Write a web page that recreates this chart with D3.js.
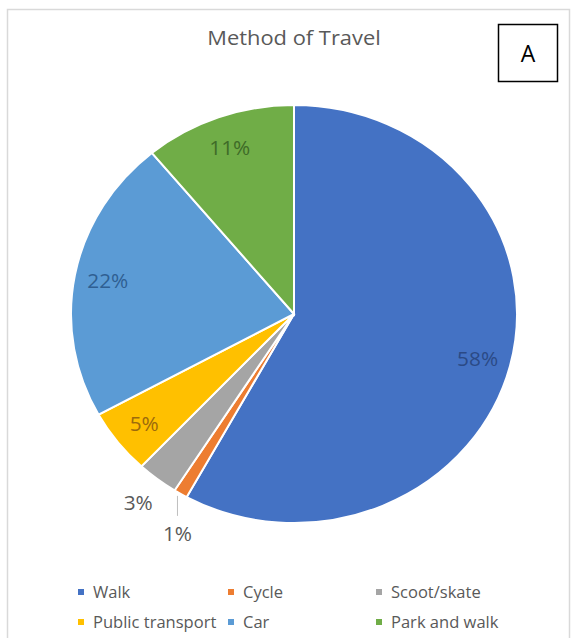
<!DOCTYPE html>
<html>
<head>
<meta charset="utf-8">
<script src="https://cdn.jsdelivr.net/npm/d3@7"></script>
<style>
  html, body { margin: 0; padding: 0; background: #ffffff; }
  svg { display: block; }
  text { font-family: "Open Sans", Lato, sans-serif; }
</style>
</head>
<body>
<svg id="chart" width="574" height="638"></svg>
<script>
// Survey results: how people travel
const categories = ["Walk", "Cycle", "Scoot/skate", "Public transport", "Car", "Park and walk"];
const shares = [58, 1, 3, 5, 22, 11];
const sliceColors = ["#4472c4", "#ed7d31", "#a5a5a5", "#ffc000", "#5b9bd5", "#70ad47"];
const labelColors = ["#2b4a86", "#595959", "#595959", "#9c6a0c", "#2f5f92", "#3e6b28"];
const labelOutside = [false, true, true, false, false, false];
const title = "Method of Travel";
const badge = "A";

const svg = d3.select("#chart");
// the whole chart is drawn slightly wider than tall
const sx = 223 / 209;

// text placed at (x, y) and widened by the same horizontal factor
function wideText(parent, x, y) {
  return parent.append("text")
    .attr("transform", `translate(${x},${y}) scale(${sx},1)`);
}

// chart area frame
svg.append("rect")
  .attr("x", 7.5).attr("y", 9.5)
  .attr("width", 562).attr("height", 640)
  .attr("fill", "#ffffff")
  .attr("stroke", "#d9d9d9").attr("stroke-width", 1.5);

// title
wideText(svg, 294, 45)
  .attr("text-anchor", "middle")
  .attr("font-size", 20.5)
  .attr("fill", "#595959")
  .text(title);

// boxed panel letter
svg.append("rect")
  .attr("x", 498.5).attr("y", 24.5)
  .attr("width", 59).attr("height", 57)
  .attr("fill", "#ffffff")
  .attr("stroke", "#000000").attr("stroke-width", 1.5);
svg.append("text")
  .attr("x", 528).attr("y", 62)
  .attr("text-anchor", "middle")
  .attr("font-family", "'Liberation Sans', Arial, sans-serif")
  .attr("font-size", 23)
  .attr("fill", "#000000")
  .text(badge);

// pie
const cx = 294, cy = 314, r = 209;
const pie = d3.pie().sort(null).value(d => d)(shares);
const arc = d3.arc().innerRadius(0).outerRadius(r);
const inLabelArc = d3.arc().innerRadius(0.85 * r).outerRadius(0.85 * r);
const outLabelArc = d3.arc().innerRadius(1.14 * r).outerRadius(1.14 * r);
const rimArc = d3.arc().innerRadius(r).outerRadius(r);

const g = svg.append("g").attr("transform", `translate(${cx},${cy})`);
g.append("g").attr("transform", `scale(${sx},1)`)
  .selectAll("path")
  .data(pie)
  .join("path")
  .attr("d", arc)
  .attr("fill", (d, i) => sliceColors[i])
  .attr("stroke", "#ffffff")
  .attr("stroke-width", 2)
  .attr("vector-effect", "non-scaling-stroke");

// data labels
function addLabel(x, y, i) {
  wideText(g, x, y)
    .attr("text-anchor", "middle").attr("dominant-baseline", "central")
    .attr("font-size", 19.5).attr("fill", labelColors[i])
    .text(shares[i] + "%");
}
pie.forEach((d, i) => {
  if (!labelOutside[i]) {
    const [x, y] = inLabelArc.centroid(d);
    addLabel(x * sx, y, i);
  } else if (shares[i] >= 2) {
    const [x, y] = outLabelArc.centroid(d);
    addLabel(x * sx, y, i);
  } else {
    // tiny slice: leader line dropping from the rim to the label below
    const [rx, ry] = rimArc.centroid(d);
    const lx = rx * sx - 3;
    g.append("line")
      .attr("x1", lx).attr("y1", ry + 2)
      .attr("x2", lx).attr("y2", ry + 22)
      .attr("stroke", "#bfbfbf").attr("stroke-width", 1);
    addLabel(lx, ry + 39, i);
  }
});

// legend: three columns, two rows
const colX = [81, 231, 379];
const rowY = [592, 622];
const legend = svg.append("g").selectAll("g")
  .data(categories)
  .join("g")
  .attr("transform", (d, i) => `translate(${colX[i % 3]},${rowY[Math.floor(i / 3)]})`);
legend.append("rect")
  .attr("x", -3).attr("y", -3).attr("width", 6).attr("height", 6)
  .attr("fill", (d, i) => sliceColors[i]);
legend.each(function (d) {
  wideText(d3.select(this), 12, 0)
    .attr("dominant-baseline", "central")
    .attr("font-size", 15.5)
    .attr("fill", "#595959")
    .text(d);
});
</script>
</body>
</html>
